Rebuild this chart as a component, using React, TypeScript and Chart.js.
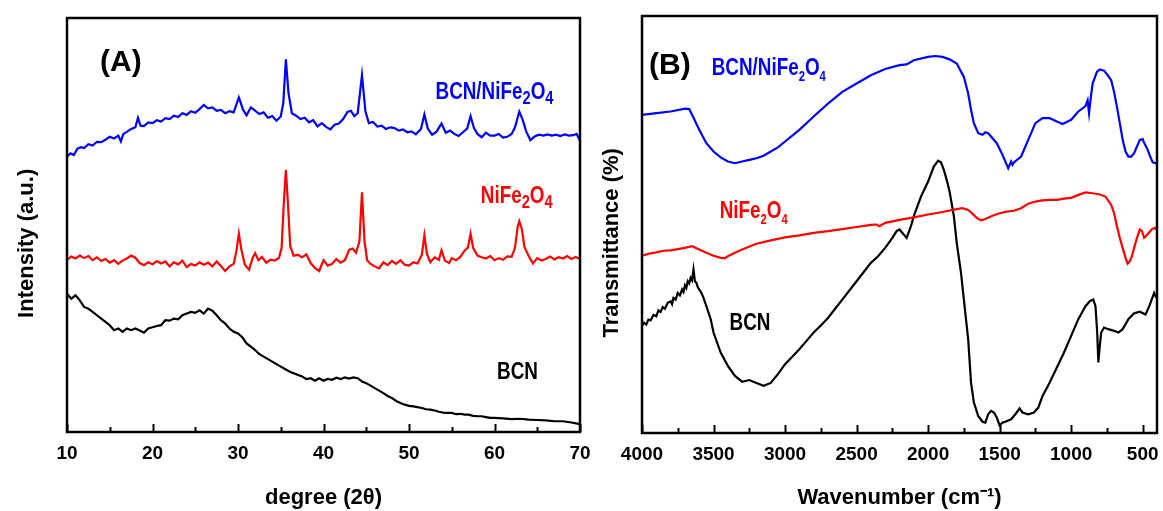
import React, { useEffect, useRef } from "react";
import { Chart, registerables } from "chart.js";
Chart.register(...registerables);

const SANS = "'Liberation Sans', Arial, sans-serif";
const SQUEEZE = 0.82; // narrow-bold look of the original annotations

// ---------- Panel A: XRD (degree 2θ vs intensity a.u.) ----------
const xrdCompositeX = [10, 10.4, 10.8, 11.2, 11.6, 12, 12.5, 13, 13.5, 14, 14.5, 15, 15.5, 16, 16.3, 16.6, 17, 17.5, 18, 18.3, 18.6, 19, 19.5, 20, 20.5, 21, 21.5, 22, 22.5, 23, 23.5, 24, 24.5, 25, 25.5, 26, 26.5, 27, 27.5, 28, 28.5, 29, 29.5, 30.1, 30.6, 31, 31.5, 32, 32.5, 33, 33.5, 34, 34.5, 35, 35.3, 35.6, 35.9, 36.3, 36.8, 37.3, 37.8, 38.3, 38.8, 39.3, 39.8, 40.3, 40.8, 41.3, 41.8, 42.3, 42.8, 43.2, 43.6, 44, 44.5, 44.9, 45.3, 45.8, 46.3, 46.8, 47.3, 47.8, 48.3, 48.8, 49.3, 49.8, 50.3, 50.8, 51.4, 51.8, 52.2, 52.7, 53.2, 53.8, 54.3, 54.8, 55.3, 55.8, 56.3, 56.8, 57.2, 57.6, 58, 58.5, 59, 59.5, 60, 60.5, 61, 61.5, 62, 62.4, 62.9, 63.3, 63.7, 64.2, 64.7, 65.2, 65.7, 66.2, 66.7, 67.2, 67.7, 68.2, 68.7, 69.2, 69.6, 70];
const xrdCompositeY = [66.5, 67.3, 66.9, 68.4, 68.8, 68.6, 69.5, 69.2, 70.1, 70.0, 70.6, 71.3, 70.9, 71.6, 70.2, 72.0, 72.5, 73.2, 73.6, 75.9, 74.0, 73.9, 74.8, 74.6, 75.3, 75.0, 75.8, 75.6, 76.4, 76.1, 77.0, 76.6, 77.5, 77.1, 78.0, 79.0, 78.2, 78.4, 77.6, 77.8, 77.0, 77.5, 77.2, 80.8, 77.8, 76.5, 78.4, 77.6, 76.8, 77.2, 75.9, 76.3, 75.2, 76.2, 79.5, 90.0, 82.0, 77.0, 76.4, 75.6, 75.9, 74.8, 75.3, 73.8, 74.6, 73.7, 73.1, 74.2, 74.5, 75.6, 77.3, 77.6, 76.3, 77.0, 86.2, 77.5, 74.6, 74.9, 73.8, 74.0, 73.2, 73.6, 73.4, 72.8, 73.1, 72.4, 72.6, 71.9, 73.2, 76.7, 73.3, 71.8, 72.5, 74.5, 72.3, 72.8, 72.0, 71.5, 72.4, 73.3, 76.3, 73.4, 72.0, 71.2, 72.3, 71.6, 71.6, 72.0, 71.1, 71.3, 72.0, 73.6, 77.4, 75.4, 72.6, 70.5, 71.4, 71.8, 71.6, 71.9, 71.6, 71.8, 71.5, 71.9, 71.6, 71.7, 72.0, 70.4];

const xrdFerriteX = [10, 10.5, 11, 11.5, 12, 12.5, 13, 13.5, 14, 14.5, 15, 15.5, 16, 16.5, 17, 17.5, 18, 18.5, 19, 19.5, 20, 20.5, 21, 21.5, 22, 22.5, 23, 23.5, 24, 24.5, 25, 25.5, 26, 26.5, 27, 27.5, 28, 28.5, 29, 29.5, 29.8, 30.1, 30.4, 30.8, 31.3, 31.7, 32, 32.4, 32.8, 33.3, 33.8, 34.3, 34.8, 35.1, 35.35, 35.6, 35.85, 36.1, 36.5, 37, 37.5, 38, 38.5, 39, 39.5, 40, 40.5, 41, 41.5, 42, 42.5, 43, 43.4, 43.8, 44.2, 44.5, 44.8, 45.1, 45.5, 46, 46.5, 47, 47.5, 48, 48.5, 49, 49.5, 50, 50.5, 51, 51.5, 51.8, 52.1, 52.5, 53, 53.5, 53.8, 54.2, 54.7, 55, 55.5, 56, 56.5, 56.9, 57.2, 57.5, 58, 58.5, 59, 59.5, 60, 60.5, 61, 61.5, 62, 62.4, 62.7, 62.9, 63.2, 63.5, 64, 64.5, 65, 65.5, 66, 66.5, 67, 67.5, 68, 68.5, 69, 69.5, 70];
const xrdFerriteY = [41.6, 42.4, 41.9, 42.6, 42.0, 42.5, 41.5, 42.2, 41.3, 41.8, 40.9, 41.5, 40.6, 41.4, 41.9, 42.6, 42.1, 40.8, 40.3, 41.0, 40.5, 41.3, 40.7, 41.2, 40.0, 41.0, 40.5, 41.4, 39.8, 40.6, 40.2, 41.0, 40.4, 40.9, 40.0, 41.2, 40.1, 38.9, 40.0, 40.6, 43.5, 47.9, 44.0, 40.4, 39.2, 42.0, 43.2, 41.5, 42.3, 40.9, 41.6, 41.4, 42.1, 44.5, 55.0, 63.3, 55.0, 45.0, 42.6, 42.8, 42.2, 42.9, 40.8, 39.6, 38.9, 41.5, 40.2, 40.6, 41.8, 40.9, 41.5, 44.0, 44.3, 43.3, 46.0, 57.9, 46.0, 41.5, 40.6, 40.0, 39.5, 41.0, 40.3, 41.3, 40.6, 41.5, 40.4, 40.2, 41.0, 40.7, 42.8, 47.5, 43.0, 41.0, 42.2, 41.6, 43.9, 41.4, 40.8, 42.0, 41.5, 42.3, 43.8, 44.6, 47.9, 44.5, 42.6, 42.2, 41.9, 42.5, 41.5, 42.0, 41.6, 42.4, 42.3, 44.5, 49.5, 50.9, 49.0, 44.7, 42.5, 40.7, 42.0, 41.4, 41.8, 42.4, 41.7, 42.2, 41.9, 42.5, 41.8, 42.3, 41.8];

const xrdBcnX = [10, 10.5, 11, 11.5, 12, 12.5, 13, 13.5, 14, 14.5, 15, 15.5, 16, 16.5, 17, 17.5, 18, 18.5, 19, 19.5, 20, 20.5, 21, 21.5, 22, 22.5, 23, 23.5, 24, 24.5, 25, 25.5, 26, 26.5, 27, 27.5, 28, 28.5, 29, 29.5, 30, 30.5, 31, 31.5, 32, 32.5, 33, 33.5, 34, 34.5, 35, 35.5, 36, 36.5, 37, 37.5, 38, 38.5, 39, 39.5, 40, 40.5, 41, 41.5, 42, 42.5, 43, 43.5, 44, 44.5, 45, 45.5, 46, 46.5, 47, 47.5, 48, 48.5, 49, 49.5, 50, 50.5, 51, 51.5, 52, 52.5, 53, 53.5, 54, 54.5, 55, 55.5, 56, 56.5, 57, 57.5, 58, 58.5, 59, 59.5, 60, 61, 62, 63, 64, 65, 66, 67, 68, 69, 70];
const xrdBcnY = [33.4, 32.2, 33.0, 31.8, 30.2, 29.8, 29.0, 28.2, 27.4, 26.6, 25.8, 24.6, 25.0, 24.2, 25.0, 24.6, 25.0, 24.5, 24.0, 25.0, 25.3, 25.6, 25.8, 27.0, 26.9, 27.4, 27.2, 28.2, 28.6, 29.0, 28.8, 29.4, 28.6, 29.8, 29.3, 28.2, 27.0, 26.2, 25.0, 24.2, 23.8, 22.9, 21.4, 20.6, 19.8, 18.8, 18.2, 17.6, 17.0, 16.4, 15.8, 15.2, 14.6, 14.2, 13.8, 13.4, 12.8, 13.0, 12.4, 13.0, 12.4, 12.8, 12.6, 13.1, 12.8, 13.2, 12.9, 13.2, 13.0, 12.2, 11.8, 11.2, 10.6, 10.0, 9.4, 8.7, 8.2, 7.5, 7.0, 6.6, 6.3, 6.2, 6.0, 5.8, 5.5, 5.4, 5.2, 4.9, 4.7, 4.6, 4.6, 4.3, 4.4, 4.2, 4.2, 3.9, 3.8, 3.8, 3.6, 3.4, 3.4, 3.3, 3.1, 3.2, 3.0, 2.9, 2.8, 2.6, 2.6, 2.3, 1.9];

const xrdMajorTicks = [10, 20, 30, 40, 50, 60, 70];
const xrdMinorTicks = [15, 25, 35, 45, 55, 65];

// ---------- Panel B: FTIR (wavenumber cm-1 vs transmittance %) ----------
const irCompositeX = [4000, 3900, 3800, 3700, 3670, 3650, 3600, 3550, 3500, 3450, 3400, 3350, 3300, 3250, 3200, 3150, 3100, 3050, 3000, 2900, 2800, 2700, 2600, 2500, 2400, 2300, 2200, 2150, 2100, 2000, 1950, 1900, 1850, 1800, 1750, 1720, 1700, 1680, 1650, 1620, 1600, 1580, 1560, 1520, 1480, 1450, 1440, 1420, 1410, 1400, 1350, 1300, 1250, 1200, 1150, 1100, 1060, 1000, 950, 900, 885, 875, 865, 850, 820, 800, 770, 740, 720, 700, 680, 660, 640, 620, 600, 580, 560, 540, 520, 500, 490, 470, 450, 430, 410, 400];
const irCompositeY = [76.3, 76.7, 77.1, 77.8, 77.7, 76.3, 72.7, 69.5, 67.5, 66.1, 65.1, 64.7, 65.1, 65.5, 65.9, 66.5, 67.5, 68.5, 69.9, 72.7, 75.9, 79.0, 81.8, 83.8, 85.8, 87.3, 88.2, 88.4, 89.4, 90.2, 90.4, 90.2, 89.6, 88.6, 85.4, 81.4, 77.5, 74.3, 71.9, 71.5, 72.1, 71.9, 71.1, 69.5, 66.7, 64.3, 63.5, 65.1, 64.3, 64.9, 66.3, 70.3, 74.3, 75.5, 75.5, 74.7, 74.1, 75.1, 77.1, 78.4, 79.8, 76.7, 79.8, 83.8, 86.6, 87.2, 86.9, 85.6, 84.6, 81.8, 78.2, 74.3, 70.3, 67.5, 66.3, 66.3, 67.1, 68.7, 70.3, 70.5, 69.6, 68.3, 66.5, 64.9, 64.7, 64.7];

const irFerriteX = [4000, 3950, 3900, 3850, 3800, 3750, 3700, 3650, 3600, 3550, 3500, 3450, 3420, 3400, 3350, 3300, 3200, 3100, 3000, 2900, 2800, 2700, 2600, 2500, 2400, 2360, 2340, 2300, 2200, 2100, 2000, 1900, 1800, 1760, 1720, 1700, 1660, 1630, 1600, 1550, 1500, 1450, 1400, 1350, 1300, 1250, 1200, 1150, 1100, 1050, 1000, 950, 900, 850, 800, 760, 720, 700, 680, 660, 640, 620, 605, 590, 575, 560, 540, 520, 505, 490, 475, 455, 435, 415, 400];
const irFerriteY = [42.5, 43.0, 43.3, 43.7, 43.8, 44.1, 44.4, 44.8, 44.0, 43.2, 42.5, 42.0, 41.9, 42.4, 43.2, 44.0, 45.4, 46.2, 46.9, 47.4, 48.0, 48.4, 48.9, 49.4, 49.9, 50.0, 49.6, 50.4, 51.1, 51.7, 52.4, 53.0, 53.7, 53.9, 53.5, 52.9, 51.6, 51.0, 51.3, 52.1, 52.7, 53.1, 53.3, 53.9, 55.0, 55.5, 55.8, 55.9, 55.9, 56.2, 56.4, 57.1, 57.7, 57.5, 57.2, 56.7, 54.7, 52.7, 49.6, 46.8, 44.4, 42.0, 40.6, 41.2, 42.4, 44.4, 46.8, 48.8, 48.4, 46.8, 47.3, 48.1, 48.9, 49.2, 48.6];

const irBcnX = [4000, 3985, 3970, 3955, 3940, 3920, 3900, 3885, 3870, 3855, 3840, 3820, 3800, 3790, 3780, 3765, 3750, 3735, 3720, 3710, 3700, 3690, 3680, 3670, 3660, 3650, 3640, 3630, 3620, 3610, 3600, 3585, 3570, 3550, 3520, 3500, 3450, 3400, 3350, 3300, 3250, 3200, 3150, 3100, 3050, 3000, 2950, 2900, 2850, 2800, 2750, 2700, 2650, 2600, 2500, 2400, 2350, 2300, 2250, 2220, 2200, 2170, 2150, 2120, 2100, 2050, 2000, 1960, 1930, 1910, 1890, 1870, 1850, 1820, 1800, 1770, 1750, 1720, 1700, 1680, 1650, 1620, 1600, 1580, 1560, 1540, 1520, 1500, 1480, 1460, 1420, 1390, 1360, 1340, 1300, 1260, 1230, 1200, 1150, 1100, 1050, 1000, 950, 900, 870, 845, 830, 818, 810, 800, 790, 770, 740, 700, 670, 640, 600, 560, 520, 480, 450, 420, 410, 400];
const irBcnY = [25.7, 26.4, 26.0, 27.2, 27.0, 28.3, 28.0, 29.4, 29.0, 30.2, 29.8, 31.2, 31.6, 30.9, 32.4, 32.0, 33.6, 33.0, 34.4, 33.8, 35.4, 34.8, 36.4, 35.9, 37.2, 36.6, 39.2, 36.4, 36.0, 35.0, 34.4, 33.6, 32.4, 30.4, 27.3, 24.1, 19.3, 16.1, 13.7, 12.3, 12.7, 12.0, 11.3, 12.0, 14.1, 16.5, 18.3, 20.1, 22.1, 24.1, 25.8, 27.6, 29.8, 32.0, 36.4, 40.8, 42.4, 44.4, 46.8, 48.4, 48.8, 47.6, 46.8, 49.6, 52.0, 56.7, 60.3, 63.9, 65.3, 64.9, 63.1, 60.7, 57.9, 52.0, 45.6, 38.4, 32.0, 22.5, 12.1, 7.3, 4.1, 2.7, 2.5, 4.5, 5.3, 4.9, 3.7, 1.8, 2.5, 2.7, 3.3, 4.5, 5.9, 4.9, 4.5, 4.9, 6.1, 8.9, 12.1, 15.7, 19.3, 23.3, 27.3, 30.4, 31.6, 32.0, 30.4, 24.1, 16.9, 20.9, 24.1, 25.3, 24.9, 24.5, 24.1, 24.9, 27.3, 28.7, 29.1, 28.4, 30.8, 33.6, 32.8, 33.2];

const irMajorTicks = [4000, 3500, 3000, 2500, 2000, 1500, 1000, 500];
const irMinorTicks = [3750, 3250, 2750, 2250, 1750, 1250, 750];

type Seg = { t: string; sub?: boolean };
type Note = { segs: Seg[]; x: number; y: number; color: string; size: number; squeeze: number; subScale: number; subDrop: number; align?: "left" | "center" };

function zip(xs: number[], ys: number[]) {
  return xs.map((x, i) => ({ x, y: ys[i] }));
}

function framePlugin(minor: number[], notes: Note[]) {
  return {
    id: "frame",
    afterDatasetsDraw(chart: any) {
      const { ctx, chartArea: a, scales } = chart;
      const xs = scales.x;
      const ys = scales.y;
      ctx.save();
      ctx.strokeStyle = "#000";
      ctx.lineWidth = 2;
      xs.ticks.forEach((t: any) => {
        const px = Math.round(xs.getPixelForValue(t.value)) + 0.5;
        ctx.beginPath();
        ctx.moveTo(px, a.bottom);
        ctx.lineTo(px, a.bottom - 8);
        ctx.stroke();
      });
      minor.forEach((v) => {
        const px = Math.round(xs.getPixelForValue(v)) + 0.5;
        ctx.beginPath();
        ctx.moveTo(px, a.bottom);
        ctx.lineTo(px, a.bottom - 5);
        ctx.stroke();
      });
      ctx.lineWidth = 2.5;
      ctx.strokeRect(a.left, a.top, a.right - a.left, a.bottom - a.top);

      for (const n of notes) {
        let total = 0;
        for (const s of n.segs) {
          const fs = s.sub ? n.size * n.subScale : n.size;
          ctx.font = `bold ${fs}px ${SANS}`;
          total += ctx.measureText(s.t).width;
        }
        let x0 = xs.getPixelForValue(n.x);
        if (n.align === "center") x0 -= (total * n.squeeze) / 2;
        const y0 = ys.getPixelForValue(n.y);
        ctx.save();
        ctx.translate(x0, y0);
        ctx.scale(n.squeeze, 1);
        ctx.fillStyle = n.color;
        ctx.textBaseline = "alphabetic";
        ctx.textAlign = "left";
        let cx = 0;
        for (const s of n.segs) {
          const fs = s.sub ? n.size * n.subScale : n.size;
          ctx.font = `bold ${fs}px ${SANS}`;
          ctx.fillText(s.t, cx, s.sub ? n.subDrop : 0);
          cx += ctx.measureText(s.t).width;
        }
        ctx.restore();
      }
      ctx.restore();
    },
  };
}

const formula = (prefix: string): Seg[] => [
  { t: prefix + "NiFe" },
  { t: "2", sub: true },
  { t: "O" },
  { t: "4", sub: true },
];

const NB = "\u00A0";

function makeConfig(opts: {
  series: { xs: number[]; ys: number[]; color: string }[];
  min: number;
  max: number;
  major: number[];
  minor: number[];
  reverse: boolean;
  xTitle: string;
  yTitle: string;
  yTitlePad: number;
  yWidth: number;
  xHeight: number;
  padTop: number;
  padRight: number;
  notes: Note[];
}) {
  return {
    type: "line" as const,
    data: {
      datasets: opts.series.map((s) => ({
        data: zip(s.xs, s.ys),
        borderColor: s.color,
        borderWidth: 2.2,
        pointRadius: 0,
        tension: 0,
        fill: false,
      })),
    },
    options: {
      responsive: false,
      animation: false as const,
      devicePixelRatio: 1,
      layout: { padding: { top: opts.padTop, right: opts.padRight, left: 0, bottom: 0 } },
      plugins: { legend: { display: false }, tooltip: { enabled: false } },
      scales: {
        x: {
          type: "linear" as const,
          min: opts.min,
          max: opts.max,
          reverse: opts.reverse,
          grid: { display: false, drawTicks: false },
          border: { display: false },
          ticks: {
            autoSkip: false,
            maxRotation: 0,
            padding: 10,
            color: "#000",
            font: { family: SANS, size: 19, weight: "bold" as const },
            callback: (v: any) => String(v),
          },
          afterBuildTicks: (scale: any) => {
            scale.ticks = opts.major.map((v) => ({ value: v }));
          },
          afterFit: (scale: any) => {
            scale.height = opts.xHeight;
            scale.paddingRight = 0;
          },
          title: {
            display: true,
            text: opts.xTitle,
            color: "#000",
            padding: { top: 0, bottom: 2 },
            font: { family: SANS, size: 22, weight: "bold" as const, lineHeight: 1 },
          },
        },
        y: {
          type: "linear" as const,
          min: 0,
          max: 100,
          grid: { display: false, drawTicks: false },
          border: { display: false },
          ticks: { display: false },
          afterFit: (scale: any) => {
            scale.width = opts.yWidth;
          },
          title: {
            display: true,
            text: opts.yTitle,
            color: "#000",
            padding: { top: opts.yTitlePad, bottom: 0 },
            font: { family: SANS, size: 22, weight: "bold" as const, lineHeight: 1 },
          },
        },
      },
    },
    plugins: [framePlugin(opts.minor, opts.notes)],
  };
}

function Panel(props: { left: number; width: number; config: any }) {
  const ref = useRef<HTMLCanvasElement | null>(null);
  useEffect(() => {
    if (!ref.current) return;
    const chart = new Chart(ref.current, props.config);
    return () => chart.destroy();
  }, []);
  return (
    <canvas
      ref={ref}
      width={props.width}
      height={511}
      style={{ position: "absolute", left: props.left, top: 0, width: props.width, height: 511 }}
    />
  );
}

const BLUE = "#0000ff";
const RED = "#ff0000";
const BLACK = "#000000";

const configA = makeConfig({
  series: [
    { xs: xrdCompositeX, ys: xrdCompositeY, color: BLUE },
    { xs: xrdFerriteX, ys: xrdFerriteY, color: RED },
    { xs: xrdBcnX, ys: xrdBcnY, color: BLACK },
  ],
  min: 10,
  max: 70,
  major: xrdMajorTicks,
  minor: xrdMinorTicks,
  reverse: false,
  xTitle: "degree (2θ)",
  yTitle: "Intensity (a.u.)" + NB.repeat(6),
  yTitlePad: 16,
  yWidth: 67,
  xHeight: 79,
  padTop: 18,
  padRight: 20,
  notes: [
    { segs: [{ t: "(A)" }], x: 16.3, y: 87.3, color: BLACK, size: 30, squeeze: 1, subScale: 1, subDrop: 0, align: "center" },
    { segs: formula("BCN/"), x: 53.1, y: 80.4, color: BLUE, size: 23, squeeze: SQUEEZE, subScale: 0.78, subDrop: 5, align: "left" },
    { segs: formula(""), x: 58.4, y: 55.3, color: RED, size: 23, squeeze: SQUEEZE, subScale: 0.78, subDrop: 5, align: "left" },
    { segs: [{ t: "BCN" }], x: 60.3, y: 12.8, color: BLACK, size: 23, squeeze: SQUEEZE, subScale: 1, subDrop: 0, align: "left" },
  ],
});

const configB = makeConfig({
  series: [
    { xs: irCompositeX, ys: irCompositeY, color: BLUE },
    { xs: irFerriteX, ys: irFerriteY, color: RED },
    { xs: irBcnX, ys: irBcnY, color: BLACK },
  ],
  min: 400,
  max: 4000,
  major: irMajorTicks,
  minor: irMinorTicks,
  reverse: true,
  xTitle: "Wavenumber (cm⁻¹)",
  yTitle: "Transmittance (%)" + NB.repeat(6),
  yTitlePad: 18,
  yWidth: 59,
  xHeight: 78,
  padTop: 16,
  padRight: 6,
  notes: [
    { segs: [{ t: "(B)" }], x: 3805, y: 86.0, color: BLACK, size: 30, squeeze: 1, subScale: 1, subDrop: 0, align: "center" },
    { segs: formula("BCN/"), x: 3513, y: 85.9, color: BLUE, size: 23, squeeze: SQUEEZE, subScale: 0.6, subDrop: 6, align: "left" },
    { segs: formula(""), x: 3457, y: 51.6, color: RED, size: 23, squeeze: SQUEEZE, subScale: 0.6, subDrop: 6, align: "left" },
    { segs: [{ t: "BCN" }], x: 3388, y: 24.7, color: BLACK, size: 23, squeeze: SQUEEZE, subScale: 1, subDrop: 0, align: "left" },
  ],
});

export default function App() {
  return (
    <div style={{ position: "fixed", left: 0, top: 0, width: 1163, height: 511, background: "#fff", overflow: "hidden" }}>
      <Panel left={0} width={600} config={configA} />
      <Panel left={583} width={580} config={configB} />
    </div>
  );
}
